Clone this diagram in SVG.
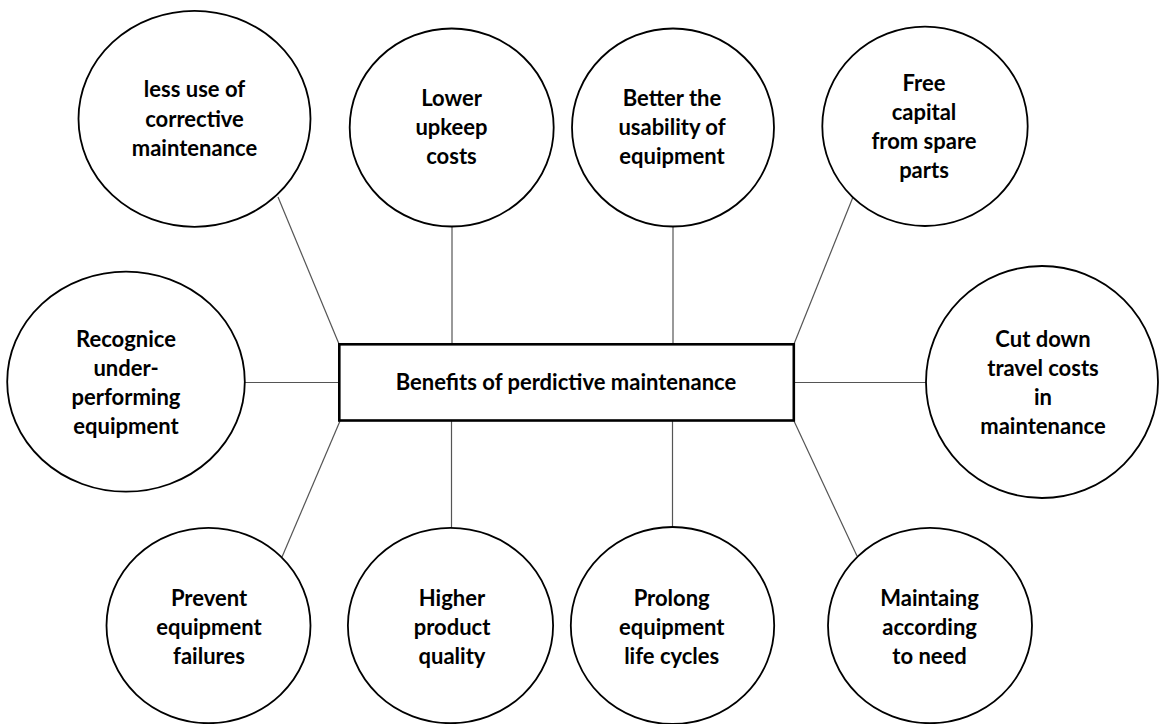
<svg xmlns="http://www.w3.org/2000/svg" width="1159" height="724" viewBox="0 0 1159 724">
<style>
.node ellipse{fill:#fff;stroke:#000;stroke-width:1.8}
.center rect{fill:#fff;stroke:#000;stroke-width:2.6}
text{font-family:Lato,"Liberation Sans",sans-serif;font-weight:bold;font-size:22px;fill:#000;text-anchor:middle}
#connectors line{stroke:#555;stroke-width:1.2}
</style>
<rect width="1159" height="724" fill="#fff"/>
<g id="connectors">
<line x1="278" y1="197" x2="339" y2="344"/>
<line x1="452" y1="227" x2="452" y2="344"/>
<line x1="673" y1="227" x2="673" y2="344"/>
<line x1="853" y1="197" x2="794" y2="344"/>
<line x1="245" y1="382.5" x2="339" y2="382.5"/>
<line x1="794" y1="382.5" x2="926" y2="382.5"/>
<line x1="340" y1="421" x2="282" y2="557"/>
<line x1="451.5" y1="421" x2="451.5" y2="528"/>
<line x1="672.5" y1="421" x2="672.5" y2="527"/>
<line x1="794" y1="421" x2="857" y2="556"/>
</g>
<g id="center" class="center">
<rect x="339.3" y="344.3" width="454.5" height="76.2"/>
<text x="566" y="390">Benefits of perdictive maintenance</text>
</g>
<g id="n1" class="node">
<ellipse cx="194.5" cy="118.8" rx="116" ry="108"/>
<text x="194.5" y="97">less use of</text>
<text x="194.5" y="126.5">corrective</text>
<text x="194.5" y="156">maintenance</text>
</g>
<g id="n2" class="node">
<ellipse cx="451.7" cy="127.5" rx="102" ry="99"/>
<text x="451.5" y="106">Lower</text>
<text x="451.5" y="135">upkeep</text>
<text x="451.5" y="164">costs</text>
</g>
<g id="n3" class="node">
<ellipse cx="673" cy="127.5" rx="101" ry="99"/>
<text x="672" y="106">Better the</text>
<text x="672" y="135">usability of</text>
<text x="672" y="164">equipment</text>
</g>
<g id="n4" class="node">
<ellipse cx="925" cy="126.3" rx="102.7" ry="99.7"/>
<text x="924" y="90.7">Free</text>
<text x="924" y="120">capital</text>
<text x="924" y="149">from spare</text>
<text x="924" y="178.3">parts</text>
</g>
<g id="n5" class="node">
<ellipse cx="126" cy="381.7" rx="118.8" ry="110"/>
<text x="126" y="346.7">Recognice</text>
<text x="126" y="375.5">under-</text>
<text x="126" y="405">performing</text>
<text x="126" y="434">equipment</text>
</g>
<g id="n6" class="node">
<ellipse cx="1042" cy="382" rx="116" ry="116"/>
<text x="1043" y="346.7">Cut down</text>
<text x="1043" y="375.5">travel costs</text>
<text x="1043" y="405">in</text>
<text x="1043" y="434">maintenance</text>
</g>
<g id="n7" class="node">
<ellipse cx="208.5" cy="625.5" rx="102" ry="97.7"/>
<text x="209" y="606">Prevent</text>
<text x="209" y="635">equipment</text>
<text x="209" y="664">failures</text>
</g>
<g id="n8" class="node">
<ellipse cx="450.5" cy="625.5" rx="102.6" ry="97.7"/>
<text x="452" y="606">Higher</text>
<text x="452" y="635">product</text>
<text x="452" y="664">quality</text>
</g>
<g id="n9" class="node">
<ellipse cx="672.5" cy="625.5" rx="101.7" ry="98.5"/>
<text x="671.7" y="606">Prolong</text>
<text x="671.7" y="635">equipment</text>
<text x="671.7" y="664">life cycles</text>
</g>
<g id="n10" class="node">
<ellipse cx="930" cy="625.5" rx="102" ry="97.7"/>
<text x="929.6" y="606">Maintaing</text>
<text x="929.6" y="635">according</text>
<text x="929.6" y="664">to need</text>
</g>
</svg>
